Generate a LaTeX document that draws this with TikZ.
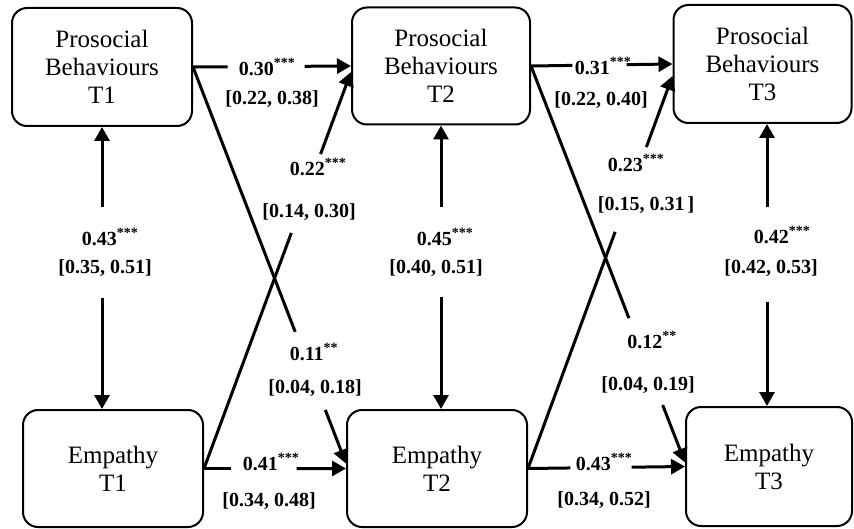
\documentclass[tikz,border=0pt]{standalone}
\usepackage{fontspec}
\setmainfont{Liberation Serif}
\usetikzlibrary{arrows.meta,calc}
\newcommand\sgn[1]{\textsuperscript{#1}}
\begin{document}
\begin{tikzpicture}[x=1pt,y=-1pt,
  box/.style={draw, line width=2pt, rounded corners=15pt, align=center, inner sep=0pt, font=\fontsize{25}{28}\selectfont},
  lab/.style={font=\fontsize{20}{22}\selectfont\bfseries, inner sep=0pt},
  con/.style={line width=3pt},
  arr/.style={line width=3pt, -{Triangle[length=14pt,width=15pt]}}]
\fill[white] (0,0) rectangle (854,529);
\useasboundingbox (0,0) rectangle (854,529);

% boxes
\node[box, minimum width=180pt, minimum height=118pt] (pb1) at (102,67) {Prosocial\\Behaviours\\T1};
\node[box, minimum width=178pt, minimum height=117pt] (pb2) at (441,66) {Prosocial\\Behaviours\\T2};
\node[box, minimum width=178pt, minimum height=118pt] (pb3) at (762.5,64) {Prosocial\\Behaviours\\T3};
\node[box, minimum width=180pt, minimum height=117pt] (e1) at (113,468.5) {Empathy\\T1};
\node[box, minimum width=180pt, minimum height=117pt] (e2) at (437,468.5) {Empathy\\T2};
\node[box, minimum width=166pt, minimum height=119pt] (e3) at (769,466.5) {Empathy\\T3};

% helper coordinates
\coordinate (v1b) at (pb1.south |- e1.north);
\coordinate (v2b) at (pb2.south |- e2.north);
\coordinate (v3a) at ($(pb3.south)+(4.5,0)$);
\coordinate (v3b) at (v3a |- e3.north);
\coordinate (d1b) at ($(pb2.west)+(0,6)$);
\coordinate (d2b) at ($(e2.west)+(0,-5)$);
\coordinate (d3b) at ($(pb3.west)+(0,12)$);
\coordinate (d4b) at ($(e3.west)+(0,-4)$);

% vertical (two-headed, interrupted)
\draw[arr] ($(pb1.south)!0.285!(v1b)$) -- (pb1.south);
\draw[arr] ($(pb1.south)!0.606!(v1b)$) -- (v1b);
\draw[arr] ($(pb2.south)!0.289!(v2b)$) -- (pb2.south);
\draw[arr] ($(pb2.south)!0.604!(v2b)$) -- (v2b);
\draw[arr] ($(v3a)!0.296!(v3b)$) -- (v3a);
\draw[arr] ($(v3a)!0.630!(v3b)$) -- (v3b);

% horizontal
\draw[con] (pb1.east) -- ($(pb1.east)!0.219!(pb2.west)$);
\draw[arr] ($(pb1.east)!0.706!(pb2.west)$) -- (pb2.west);
\draw[con] (pb2.east) -- ($(pb2.east)!0.293!(pb3.west)$);
\draw[arr] ($(pb2.east)!0.676!(pb3.west)$) -- (pb3.west);
\draw[con] (e1.east) -- ($(e1.east)!0.1875!(e2.west)$);
\draw[arr] ($(e1.east)!0.653!(e2.west)$) -- (e2.west);
\draw[con] (e2.east) -- ($(e2.east)!0.27!(e3.west)$);
\draw[arr] ($(e2.east)!0.66!(e3.west)$) -- (e3.west);

% diagonal
\draw[con] (e1.east) -- ($(e1.east)!0.594!(d1b)$);
\draw[arr] ($(e1.east)!0.793!(d1b)$) -- (d1b);
\draw[con] (pb1.east) -- ($(pb1.east)!0.668!(d2b)$);
\draw[arr] ($(pb1.east)!0.865!(d2b)$) -- (d2b);
\draw[con] (e2.east) -- ($(e2.east)!0.603!(d3b)$);
\draw[arr] ($(e2.east)!0.819!(d3b)$) -- (d3b);
\draw[con] (pb2.east) -- ($(pb2.east)!0.636!(d4b)$);
\draw[arr] ($(pb2.east)!0.855!(d4b)$) -- (d4b);

% labels
\node[lab] (l01) at (267,67) {0.30\sgn{***}};
\node[lab] (l02) at (272,99) {[0.22, 0.38]};
\node[lab] (l03) at (318,167) {0.22\sgn{***}};
\node[lab] (l04) at (309,212) {[0.14, 0.30]};
\node[lab] (l05) at (110,237) {0.43\sgn{***}};
\node[lab] (l06) at (105,268) {[0.35, 0.51]};
\node[lab] (l07) at (314,352) {0.11\sgn{**}};
\node[lab] (l08) at (315,388) {[0.04, 0.18]};
\node[lab] (l09) at (271,462) {0.41\sgn{***}};
\node[lab] (l10) at (269,501) {[0.34, 0.48]};
\node[lab] (l11) at (445,237) {0.45\sgn{***}};
\node[lab] (l12) at (436,268) {[0.40, 0.51]};
\node[lab] (l13) at (603,66) {0.31\sgn{***}};
\node[lab] (l14) at (601,100) {[0.22, 0.40]};
\node[lab] (l15) at (636,163) {0.23\sgn{***}};
\node[lab] (l16) at (646,205) {[0.15, 0.31\kern3pt]};
\node[lab] (l17) at (782,235) {0.42\sgn{***}};
\node[lab] (l18) at (771,268) {[0.42, 0.53]};
\node[lab] (l19) at (652,340) {0.12\sgn{**}};
\node[lab] (l20) at (648,385) {[0.04, 0.19]};
\node[lab] (l21) at (604,462) {0.43\sgn{***}};
\node[lab] (l22) at (604,500) {[0.34, 0.52]};
\end{tikzpicture}
\end{document}
